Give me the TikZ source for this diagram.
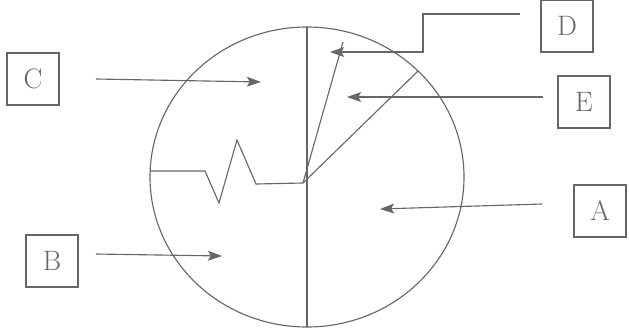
\documentclass[tikz,border=0pt]{standalone}
\usepackage{tikz}
\usetikzlibrary{positioning, arrows.meta}

\begin{document}
\begin{tikzpicture}[
    x=0.025cm, y=-0.025cm,
    labelbox/.style={rectangle, draw=black!60, line width=0.8pt, minimum width=1.3cm, minimum height=1.3cm, inner sep=0pt, font=\fontsize{20}{24}\selectfont, text=black!60},
    part/.style={draw=black!60, line width=0.8pt},
    arr/.style={-{Stealth[length=10pt, width=7pt, inset=2pt]}, line width=0.8pt, draw=black!60}
]
    \useasboundingbox (0,0) rectangle (629,329);

    % circle and its inner lines
    \coordinate (ctr) at (307,177);
    \draw[part] (ctr) ellipse [x radius=157, y radius=150];
    \coordinate (top) at (307,27);
    \coordinate (bot) at (307,327);
    \coordinate (hub) at (303,183);
    \coordinate (rimE) at (418,71);
    \coordinate (tipD) at (343,42);
    \draw[part] (top) -- (bot);
    \draw[part] (hub) -- (rimE);
    \draw[part] (hub) -- (tipD);
    \draw[part] (150,171) -- (205,171) -- (219,203) -- (237,140) -- (256,184) -- (hub);

    % labels
    \node[labelbox] (boxA) at (600,211) {A};
    \node[labelbox] (boxB) at (52,261) {B};
    \node[labelbox] (boxC) at (33,79) {C};
    \node[labelbox] (boxD) at (567,26) {D};
    \node[labelbox] (boxE) at (584,102) {E};

    % pointers
    \coordinate (fromA) at (542,204);
    \coordinate (toA) at (380,209);
    \coordinate (fromB) at (96,254);
    \coordinate (toB) at (222,256);
    \coordinate (fromC) at (96,79);
    \coordinate (toC) at (261,82);
    \coordinate (fromD) at (520,14);
    \coordinate (bendD) at (423,14);
    \coordinate (kneeD) at (423,52);
    \coordinate (toD) at (330,52);
    \coordinate (fromE) at (543,97);
    \coordinate (toE) at (347,97);
    \draw[arr] (fromA) -- (toA);
    \draw[arr] (fromB) -- (toB);
    \draw[arr] (fromC) -- (toC);
    \draw[arr] (fromD) -- (bendD) -- (kneeD) -- (toD);
    \draw[arr] (fromE) -- (toE);
\end{tikzpicture}
\end{document}
